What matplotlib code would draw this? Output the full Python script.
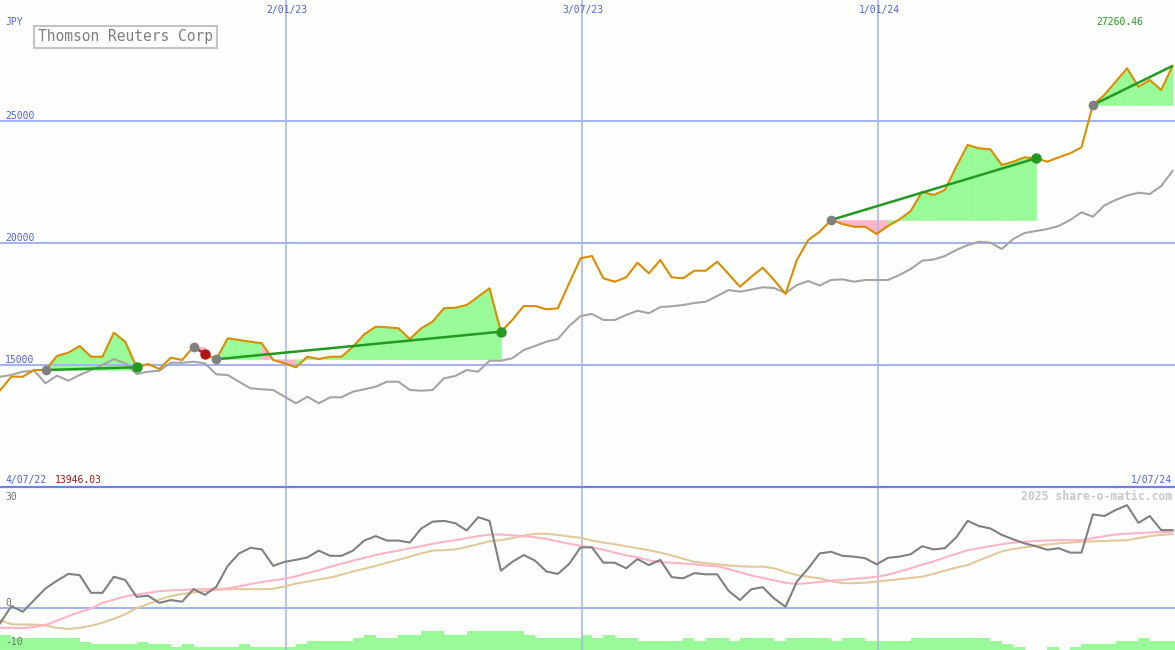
import numpy as np
import pandas as pd
import matplotlib
matplotlib.use('Agg')
import matplotlib.pyplot as plt
from matplotlib.lines import Line2D

# ---------------- data ----------------
dates = np.array(pd.date_range('2022-07-10', periods=104, freq='7D').to_pydatetime())
x_end = pd.Timestamp('2024-07-01 12:00').to_pydatetime()

price = [13946.03, 14508, 14508, 14783, 14783, 15357, 15492, 15767, 15328, 15328,
         16313, 15944, 14893, 15029, 14824, 15287, 15193, 15739, 15439, 15222,
         16083, 16013, 15944, 15878, 15193, 15057, 14893, 15328, 15234, 15328,
         15328, 15739, 16247, 16559, 16535, 16494, 16054, 16494, 16764, 17314,
         17339, 17449, 17790, 18135, 16354, 16834, 17408, 17408, 17273, 17314,
         18340, 19366, 19460, 18545, 18405, 18586, 19185, 18750, 19296, 18586,
         18545, 18857, 18857, 19226, 18721, 18200, 18611, 18980, 18475, 17901,
         19296, 20116, 20457, 20937, 20773, 20662, 20662, 20363, 20691, 20958,
         21306, 22098, 21963, 22168, 23124, 24014, 23879, 23838, 23194, 23329,
         23510, 23469, 23329, 23510, 23674, 23920, 25656, 26066, 26611, 27161,
         26406, 26681, 26271, 27260.46]

index_line = [14508, 14577, 14713, 14754, 14237, 14549, 14344, 14577, 14783, 14988,
              15234, 15057, 14618, 14713, 14754, 15082, 15082, 15123, 15057, 14606,
              14577, 14302, 14032, 13991, 13962, 13687, 13416, 13687, 13416, 13662,
              13662, 13892, 13991, 14097, 14302, 14302, 13962, 13933, 13962, 14442,
              14536, 14783, 14713, 15164, 15164, 15263, 15603, 15767, 15944, 16054,
              16588, 16998, 17080, 16834, 16834, 17039, 17216, 17109, 17367, 17396,
              17449, 17532, 17585, 17819, 18065, 17995, 18085, 18176, 18147, 17942,
              18270, 18434, 18250, 18475, 18504, 18405, 18475, 18475, 18475, 18680,
              18927, 19267, 19316, 19460, 19706, 19911, 20047, 20006, 19747, 20157,
              20404, 20486, 20568, 20691, 20937, 21253, 21072, 21532, 21758, 21942,
              22057, 22004, 22332, 22947]

osc = [-3.9, 0.4, -1.0, 1.9, 4.8, 6.7, 8.4, 8.1, 3.7, 3.7,
       7.7, 6.9, 2.7, 3.0, 1.2, 1.9, 1.5, 4.6, 3.2, 5.2,
       10.4, 13.5, 14.9, 14.5, 10.4, 11.4, 11.9, 12.5, 14.2, 12.9,
       12.9, 14.2, 16.7, 17.8, 16.7, 16.7, 16.2, 19.7, 21.4, 21.6,
       21.0, 19.2, 22.5, 21.6, 9.2, 11.4, 13.1, 11.7, 9.0, 8.4,
       10.9, 15.0, 15.0, 11.2, 11.2, 9.8, 12.1, 10.6, 11.9, 7.6,
       7.3, 8.6, 8.3, 8.3, 4.2, 1.9, 4.6, 5.1, 2.3, 0.25,
       6.5, 9.8, 13.5, 13.9, 12.9, 12.7, 12.3, 10.8, 12.4, 12.7,
       13.3, 15.3, 14.5, 14.8, 17.5, 21.6, 20.3, 19.7, 18.1, 17.0,
       16.0, 15.3, 14.4, 14.8, 13.7, 13.7, 23.2, 22.8, 24.3, 25.5,
       21.1, 22.8, 19.3, 19.3]

osc_avg_fast = [-5.0, -5.0, -5.1, -4.8, -4.3, -3.2, -2.1, -1.1, -0.2, 1.2,
                2.0, 2.8, 3.3, 3.7, 4.1, 4.3, 4.4, 4.6, 4.6, 4.7,
                4.8, 5.3, 5.9, 6.4, 6.8, 7.2, 7.8, 8.6, 9.3, 10.2,
                10.9, 11.7, 12.4, 13.1, 13.7, 14.2, 14.8, 15.3, 15.9, 16.4,
                16.8, 17.3, 17.8, 18.2, 18.2, 18.0, 17.8, 17.5, 17.1, 16.5,
                15.9, 15.4, 15.0, 14.4, 13.7, 13.0, 12.5, 11.8, 11.3, 11.2,
                11.0, 10.8, 10.5, 10.3, 9.6, 8.8, 8.0, 7.4, 6.8, 6.2,
                5.9, 6.1, 6.4, 6.7, 6.9, 7.2, 7.4, 7.7, 8.2, 9.0,
                9.8, 10.7, 11.5, 12.5, 13.4, 14.3, 14.8, 15.3, 15.8, 16.2,
                16.4, 16.6, 16.7, 16.8, 16.8, 16.8, 17.3, 17.8, 18.2, 18.4,
                18.6, 18.7, 18.8, 18.9]

osc_avg_slow = [-3.1, -4.1, -4.2, -4.2, -4.4, -5.0, -5.3, -5.0, -4.5, -3.7,
                -2.8, -1.6, -0.1, 0.9, 2.0, 2.9, 3.4, 3.8, 4.1, 4.4,
                4.6, 4.6, 4.6, 4.6, 4.7, 5.3, 6.0, 6.5, 7.0, 7.5,
                8.2, 9.0, 9.7, 10.4, 11.2, 11.9, 12.7, 13.5, 14.2, 14.3,
                14.5, 15.1, 15.8, 16.5, 16.8, 17.3, 17.9, 18.4, 18.4, 18.1,
                17.7, 17.4, 16.7, 16.2, 15.8, 15.3, 14.8, 14.3, 13.7, 13.0,
                12.2, 11.4, 11.1, 10.8, 10.5, 10.3, 10.2, 10.2, 9.8, 8.9,
                8.1, 7.7, 7.3, 6.6, 6.1, 6.1, 6.2, 6.5, 6.8, 7.1,
                7.4, 7.7, 8.4, 9.2, 10.0, 10.6, 11.8, 12.9, 14.0, 14.6,
                15.0, 15.4, 15.7, 16.0, 16.2, 16.4, 16.5, 16.6, 16.7, 16.8,
                17.3, 17.8, 18.1, 18.3]

volume = [4.5, 3.5, 3.5, 3.5, 3.5, 3.5, 3.5, 2.5, 1.8, 1.8,
          1.8, 1.8, 2.5, 1.8, 1.8, 1.0, 1.8, 1.0, 1.0, 1.0,
          1.0, 1.8, 1.0, 1.0, 1.0, 0.8, 1.8, 2.7, 2.7, 2.7,
          2.7, 3.5, 4.5, 3.5, 3.5, 4.5, 4.5, 5.7, 5.7, 4.5,
          4.5, 5.7, 5.7, 5.7, 5.7, 5.7, 4.5, 3.5, 3.5, 3.5,
          3.5, 4.5, 3.5, 4.5, 3.5, 3.5, 2.7, 2.7, 2.7, 2.7,
          3.5, 2.7, 3.5, 3.5, 2.7, 3.5, 3.5, 3.5, 2.7, 3.5,
          3.5, 3.5, 3.5, 2.7, 3.5, 3.5, 2.7, 2.7, 2.7, 2.7,
          3.5, 3.5, 3.5, 3.5, 3.5, 3.5, 3.5, 2.7, 1.8, 0.8,
          0.0, 0.0, 0.8, 0.0, 0.8, 1.8, 1.8, 1.8, 2.7, 2.7,
          3.5, 2.7, 2.7, 2.7]

trade_start = [4, 17, 19, 73, 96]
trade_end = [12, 18, 44, 91, 103]
trade_closed = [True, True, True, True, False]

grid_dates = ['2023-01-02', '2023-07-03', '2024-01-01']
grid_labels = ['2/01/23', '3/07/23', '1/01/24']
price_ticks = [15000, 20000, 25000]
osc_ticks = [30, 0, -10]

title = 'Thomson Reuters Corp'
currency = 'JPY'
start_label = '4/07/22'
end_label = '1/07/24'
watermark = '2025 share-o-matic.com'

# ---------------- style ----------------
W, H = 1175, 650
BG = '#fdfffd'
GRID = '#a4b4f2'
SEP = '#7080ea'
BLUE_TXT = '#5060e8'
ORANGE = '#dc8c00'
GRAY_LINE = '#a4a4a4'
TREND = '#229a22'
FILL_G = '#98fb98'
FILL_P = '#ffb6c8'
MONO = 'DejaVu Sans Mono'

fig = plt.figure(figsize=(W / 100, H / 100), dpi=100, facecolor=BG)
ax = fig.add_axes([0, 163 / H, 1, 487 / H])
ax2 = fig.add_axes([0, 0, 1, 163 / H])
for a in (ax, ax2):
    a.set_xlim(dates[0], x_end)
    a.axis('off')
ax.set_ylim(9982, 29964)
ax2.set_ylim(-10.52, 30.02)

gd = [pd.Timestamp(d).to_pydatetime() for d in grid_dates]

# grid
for v in price_ticks:
    ax.axhline(v, color=GRID, lw=1.45, zorder=1.5)
ax2.axhline(0, color=GRID, lw=1.45, zorder=1.5)
for d in gd:
    ax.axvline(d, color=GRID, lw=1.1, zorder=1.5)
    ax2.axvline(d, color=GRID, lw=1.1, zorder=1.5)

# trade fills
for s, e in zip(trade_start, trade_end):
    base = price[s]
    for j in range(s, e):
        col = FILL_G if price[j + 1] >= base else FILL_P
        ax.fill_between(dates[j:j + 2], price[j:j + 2], base, facecolor=col,
                        edgecolor=col, lw=0.4, zorder=1)

ax.plot(dates, index_line, color=GRAY_LINE, lw=1.5, zorder=2)
ax.plot(dates, price, color=ORANGE, lw=1.5, zorder=3)

for s, e, closed in zip(trade_start, trade_end, trade_closed):
    win = price[e] >= price[s]
    lc = TREND if win else '#c03030'
    ax.plot([dates[s], dates[e]], [price[s], price[e]], color=lc, lw=1.8, zorder=4,
            solid_capstyle='butt')
    ax.plot([dates[s]], [price[s]], 'o', color='#808080', ms=7, mec='none', zorder=5)
    if closed:
        ax.plot([dates[e]], [price[e]], 'o', color=TREND if win else '#b01414',
                ms=7.5, mec='none', zorder=5)

# volume (behind the oscillator panel)
axv = fig.add_axes([0, 0, 1, 163 / H], sharex=None)
axv.axis('off')
axv.set_xlim(dates[0], x_end)
axv.set_ylim(0, 49)
axv.bar(dates, volume, width=7, align='edge', color=FILL_G, lw=0)
axv.set_zorder(ax2.get_zorder() - 1)

# oscillator panel
ax2.plot(dates, osc_avg_slow, color='#e2c99c', lw=1.5, zorder=3)
ax2.plot(dates, osc_avg_fast, color='#ffb4c8', lw=1.5, zorder=3.2)
ax2.plot(dates, osc, color='#808080', lw=1.5, zorder=3.4)

# separator
fig.add_artist(Line2D([0, 1], [1 - 487 / H, 1 - 487 / H], color=SEP, lw=1.6))

# ---------------- text ----------------
fs = 7
for v in price_ticks:
    ax.annotate(f'{v}', xy=(0, v), xycoords=('axes fraction', 'data'), xytext=(5, 2),
                textcoords='offset pixels', ha='left', va='baseline',
                fontsize=fs, family=MONO, color=BLUE_TXT)
for d, lab in zip(gd, grid_labels):
    ax.annotate(lab, xy=(d, 1), xycoords=('data', 'axes fraction'), xytext=(1, -5),
                textcoords='offset pixels', ha='center', va='top',
                fontsize=fs, family=MONO, color=BLUE_TXT)

offs = {30: -13, 0: 2, -10: 2.5}
for v in osc_ticks:
    ax2.annotate(f'{v}', xy=(0, v), xycoords=('axes fraction', 'data'),
                 xytext=(5, offs[v]), textcoords='offset pixels', ha='left',
                 va='baseline', fontsize=fs, family=MONO, color='#707070', zorder=10)


def ftext(px, py, s, **kw):
    fig.text(px / W, 1 - py / H, s, family=MONO, **kw)


ftext(5, 25, currency, fontsize=fs, color=BLUE_TXT, va='baseline')
ftext(38, 36.8, title, fontsize=10.5, color='#808080', va='center',
      bbox=dict(boxstyle='square,pad=0.25', fc=BG, ec='#c4c4c4', lw=1.5))
ftext(1096, 25, f'{price[-1]:.2f}', fontsize=fs, color='#229a22', va='baseline')
ftext(6, 483, start_label, fontsize=fs, color=BLUE_TXT, va='baseline')
ftext(55, 483, f'{min(price):.2f}', fontsize=fs, color='#a01818', va='baseline')
ftext(1172, 483, end_label, fontsize=fs, color=BLUE_TXT, va='baseline', ha='right')
ftext(1172, 500, watermark, fontsize=8.3, color='#c8c8c8', va='baseline', ha='right',
      weight='bold')

fig.savefig('out.png', dpi=100, facecolor=BG)
